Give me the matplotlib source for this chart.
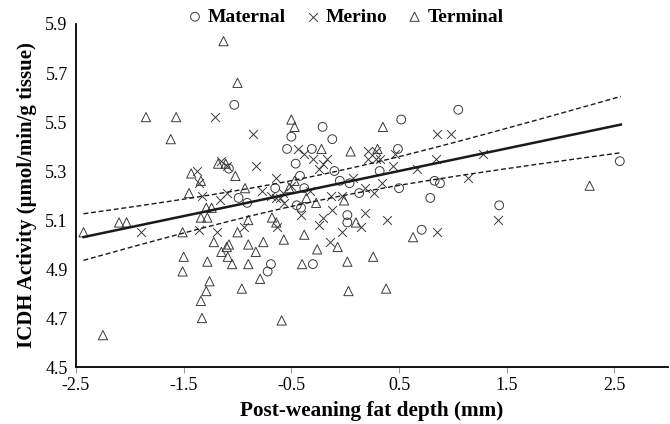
import numpy as np
import matplotlib
matplotlib.use("Agg")
import matplotlib.pyplot as plt

plt.rcParams['font.family'] = ['Liberation Serif', 'DejaVu Serif']

# (fat depth, ICDH activity)
maternal_x = [-1.03, -0.21, -0.50, -0.12, 0.52, 1.05, -0.54, -0.31, -0.46, -1.08,
              -0.10, -0.42, -0.05, 0.04, -0.99, -0.65, -0.91, -0.38, 0.13, -0.45,
              -0.41, 0.02, 0.02, -0.69, -0.72, -0.30, 0.49, 0.32, 0.50, 0.83,
              0.88, 0.79, 1.43, 0.71, 2.55]
maternal_y = [5.57, 5.48, 5.44, 5.43, 5.51, 5.55, 5.39, 5.39, 5.33, 5.31,
              5.30, 5.28, 5.26, 5.25, 5.19, 5.23, 5.17, 5.23, 5.21, 5.16,
              5.15, 5.12, 5.09, 4.92, 4.89, 4.92, 5.39, 5.30, 5.23, 5.26,
              5.25, 5.19, 5.16, 5.06, 5.34]

merino_x = [-1.21, -0.86, 0.85, 0.98, -1.15, -1.10, -1.38, -1.36, -1.33, -1.16,
            -1.90, -1.36, -1.19, -0.44, -0.38, -0.30, -0.17, -0.21, -0.24, 0.21,
            0.21, 0.29, 0.29, -0.83, -0.64, -0.50, 0.07, -1.10, -0.77, -0.69,
            -0.64, -0.61, -0.58, -0.57, -0.33, -0.13, -0.03, 0.18, 0.27, -0.41,
            -0.12, 0.18, -0.63, -0.21, -0.24, 0.15, -0.03, -0.94, -0.14, 0.32,
            0.46, 0.44, 0.84, 1.28, 0.67, 0.34, 1.14, 1.42, 0.39, 0.85]
merino_y = [5.52, 5.45, 5.45, 5.45, 5.34, 5.32, 5.30, 5.25, 5.20, 5.18,
            5.05, 5.06, 5.05, 5.39, 5.37, 5.35, 5.35, 5.33, 5.31, 5.38,
            5.35, 5.38, 5.35, 5.32, 5.27, 5.24, 5.27, 5.21, 5.22, 5.20,
            5.19, 5.19, 5.21, 5.17, 5.22, 5.20, 5.20, 5.23, 5.21, 5.12,
            5.14, 5.13, 5.07, 5.11, 5.08, 5.07, 5.05, 5.07, 5.01, 5.35,
            5.37, 5.32, 5.35, 5.37, 5.31, 5.25, 5.27, 5.10, 5.10, 5.05]

terminal_x = [-1.13, -1.85, -1.57, -1.62, -1.00, -0.50, -0.47, 0.35, 2.27, -1.18,
              -1.11, -1.43, -1.34, -1.45, -1.29, -1.24, -1.34, -1.28, -2.10, -2.03,
              -2.43, -1.51, -1.22, -1.15, -1.10, -1.50, -1.28, -1.09, -1.51, -1.26,
              -1.29, -1.34, -1.33, -2.25, -1.05, -0.90, -0.83, -0.79, -0.96, -0.40,
              -0.26, -0.07, 0.02, 0.26, 0.03, -0.59, 0.38, 0.30, 0.63, -0.22,
              0.05, -1.02, -0.47, -0.93, -0.52, -0.36, -0.01, -0.27, -0.68, -0.90,
              -0.64, 0.10, -1.00, -0.38, -1.08, -0.90, -0.76, -0.57]
terminal_y = [5.83, 5.52, 5.52, 5.43, 5.66, 5.51, 5.48, 5.48, 5.24, 5.33,
              5.33, 5.29, 5.26, 5.21, 5.15, 5.15, 5.11, 5.11, 5.09, 5.09,
              5.05, 5.05, 5.01, 4.97, 4.99, 4.95, 4.93, 4.95, 4.89, 4.85,
              4.81, 4.77, 4.70, 4.63, 4.92, 4.92, 4.97, 4.86, 4.82, 4.92,
              4.98, 4.99, 4.93, 4.95, 4.81, 4.69, 4.82, 5.39, 5.03, 5.39,
              5.38, 5.28, 5.26, 5.23, 5.23, 5.19, 5.18, 5.17, 5.11, 5.10,
              5.09, 5.09, 5.05, 5.04, 5.00, 5.00, 5.01, 5.02]

# fitted line and 95% band
fit_range = [-2.43, 2.56]
intercept, slope = 5.254, 0.092
band_a, band_b, x_mean = 0.002677, 0.001336, -0.25

mk = '#3a3a3a'

fig = plt.figure(figsize=(6.7, 4.24), dpi=100)
ax = fig.add_axes([0.1134, 0.1344, 0.884, 0.809])

ax.scatter(maternal_x, maternal_y, s=40, marker='o', facecolors='none',
           edgecolors=mk, linewidths=0.7, label='Maternal')
ax.scatter(merino_x, merino_y, s=40, marker='x', color=mk,
           linewidths=0.7, label='Merino')
ax.scatter(terminal_x, terminal_y, s=44, marker='^', facecolors='none',
           edgecolors=mk, linewidths=0.7, label='Terminal')

xs = np.linspace(fit_range[0], fit_range[1], 200)
yfit = intercept + slope * xs
half = np.sqrt(band_a + band_b * (xs - x_mean) ** 2)
ax.plot(xs, yfit, color='#1a1a1a', lw=1.8)
ax.plot(xs, yfit + half, color='#1a1a1a', lw=1.0, ls=(0, (3.5, 2)))
ax.plot(xs, yfit - half, color='#1a1a1a', lw=1.0, ls=(0, (3.5, 2)))

ax.set_xlim(-2.5, 3.0)
ax.set_ylim(4.5, 5.9)
ax.set_xticks([-2.5, -1.5, -0.5, 0.5, 1.5, 2.5])
ax.set_xticklabels(['-2.5', '-1.5', '-0.5', '0.5', '1.5', '2.5'])
ax.set_yticks([4.5, 4.7, 4.9, 5.1, 5.3, 5.5, 5.7, 5.9])
ax.tick_params(axis='x', length=4, color='#999999', labelsize=13, pad=3)
ax.tick_params(axis='y', length=0, labelsize=13, pad=6)
for s in ['top', 'right']:
    ax.spines[s].set_visible(False)
for s in ['left', 'bottom']:
    ax.spines[s].set_linewidth(1.3)

ax.set_xlabel('Post-weaning fat depth (mm)', fontsize=15.3, fontweight='bold', labelpad=5)
ax.set_ylabel('ICDH Activity (\u03bcmol/min/g tissue)', fontsize=15, fontweight='bold', labelpad=6)

ax.legend(loc='lower center', bbox_to_anchor=(0.453, 0.972), ncol=3, frameon=False,
          prop={'weight': 'bold', 'size': 14}, handletextpad=0.15, columnspacing=0.9,
          borderaxespad=0, handlelength=1.0)

fig.savefig('out.png', dpi=100)
